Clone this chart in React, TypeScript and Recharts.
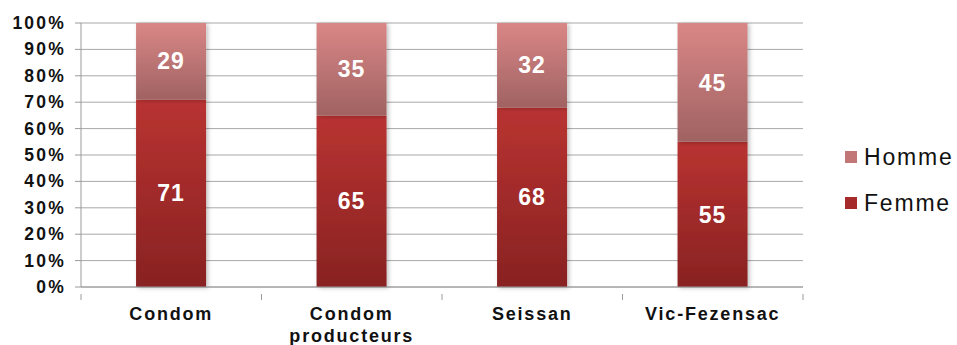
import React from "react";
import { BarChart, Bar, XAxis, YAxis, CartesianGrid, LabelList } from "recharts";

const categories = ["Condom", "Condom producteurs", "Seissan", "Vic-Fezensac"];
const femme = [71, 65, 68, 55];
const homme = [29, 35, 32, 45];
const yTicks = [0, 10, 20, 30, 40, 50, 60, 70, 80, 90, 100];
const seriesNames = ["Homme", "Femme"];

const data = categories.map((c, i) => ({ name: c, Femme: femme[i], Homme: homme[i] }));

const W = 957;
const H = 345;
const PLOT_LEFT = 81;
const PLOT_RIGHT = 803;
const BAND = (PLOT_RIGHT - PLOT_LEFT) / categories.length;
const FONT = "'Liberation Sans', Arial, sans-serif";
const legendColors: Record<string, string> = { Homme: "#c27676", Femme: "#a52a2a" };

const XTick = (props: any) => {
  const { x, y, payload, index } = props;
  const words = String(payload.value).split(" ");
  const lines = words.length > 1 ? words : [payload.value];
  const left = x - BAND / 2;
  const isLast = index === categories.length - 1;
  return (
    <g>
      <line x1={left} x2={left} y1={y - 1} y2={y + 5} stroke="#9a9a9a" strokeWidth={1} />
      {isLast && (
        <line x1={x + BAND / 2} x2={x + BAND / 2} y1={y - 1} y2={y + 5} stroke="#9a9a9a" strokeWidth={1} />
      )}
      {lines.map((l: string, i: number) => (
        <text
          key={i}
          x={x}
          y={y + 25 + i * 22}
          textAnchor="middle"
          fontFamily={FONT}
          fontWeight="bold"
          fontSize={18}
          letterSpacing={1.8}
          fill="#111"
        >
          {l}
        </text>
      ))}
    </g>
  );
};

const YTick = (props: any) => {
  const { x, y, payload } = props;
  return (
    <text
      x={x - 7}
      y={y + 6}
      textAnchor="end"
      fontFamily={FONT}
      fontWeight="bold"
      fontSize={17.5}
      letterSpacing={2.2}
      fill="#111"
    >
      {`${payload.value}%`}
    </text>
  );
};

export default function App() {
  return (
    <div style={{ position: "absolute", left: 0, top: 0, width: W, height: H, background: "#fff" }}>
      <BarChart
        width={W}
        height={H}
        data={data}
        margin={{ top: 23, right: W - PLOT_RIGHT, bottom: 0, left: 0 }}
        barCategoryGap="30.5%"
      >
        <defs>
          <linearGradient id="gFemme" x1="0" y1="0" x2="0" y2="1">
            <stop offset="0%" stopColor="#b93331" />
            <stop offset="100%" stopColor="#882222" />
          </linearGradient>
          <linearGradient id="gHomme" x1="0" y1="0" x2="0" y2="1">
            <stop offset="0%" stopColor="#d98786" />
            <stop offset="100%" stopColor="#a06262" />
          </linearGradient>
          <filter id="shadow" x="-20%" y="-20%" width="140%" height="140%">
            <feDropShadow dx="2" dy="1" stdDeviation="2" floodColor="#000" floodOpacity="0.25" />
          </filter>
        </defs>
        <CartesianGrid vertical={false} stroke="#a8a8a8" strokeWidth={1} />
        <XAxis
          dataKey="name"
          height={58}
          stroke="#9a9a9a"
          tickLine={false}
          interval={0}
          tick={<XTick />}
        />
        <YAxis
          width={PLOT_LEFT}
          domain={[0, 100]}
          ticks={yTicks}
          stroke="#9a9a9a"
          tickSize={6}
          tick={<YTick />}
          interval={0}
        />
        <Bar dataKey="Femme" stackId="a" fill="url(#gFemme)" isAnimationActive={false} filter="url(#shadow)">
          <LabelList
            dataKey="Femme"
            position="center"
            fill="#fff"
            fontFamily={FONT}
            fontWeight="bold"
            fontSize={23}
            letterSpacing={1}
          />
        </Bar>
        <Bar dataKey="Homme" stackId="a" fill="url(#gHomme)" isAnimationActive={false} filter="url(#shadow)">
          <LabelList
            dataKey="Homme"
            position="center"
            fill="#fff"
            fontFamily={FONT}
            fontWeight="bold"
            fontSize={23}
            letterSpacing={1}
          />
        </Bar>
      </BarChart>
      <div style={{ position: "absolute", left: 845, top: 134, fontFamily: FONT }}>
        {seriesNames.map((n) => (
          <div key={n} style={{ display: "flex", alignItems: "center", height: 46 }}>
            <div style={{ width: 12, height: 12, background: legendColors[n], marginRight: 7 }} />
            <span style={{ fontSize: 23, letterSpacing: 1.8, color: "#111", whiteSpace: "nowrap" }}>{n}</span>
          </div>
        ))}
      </div>
    </div>
  );
}
